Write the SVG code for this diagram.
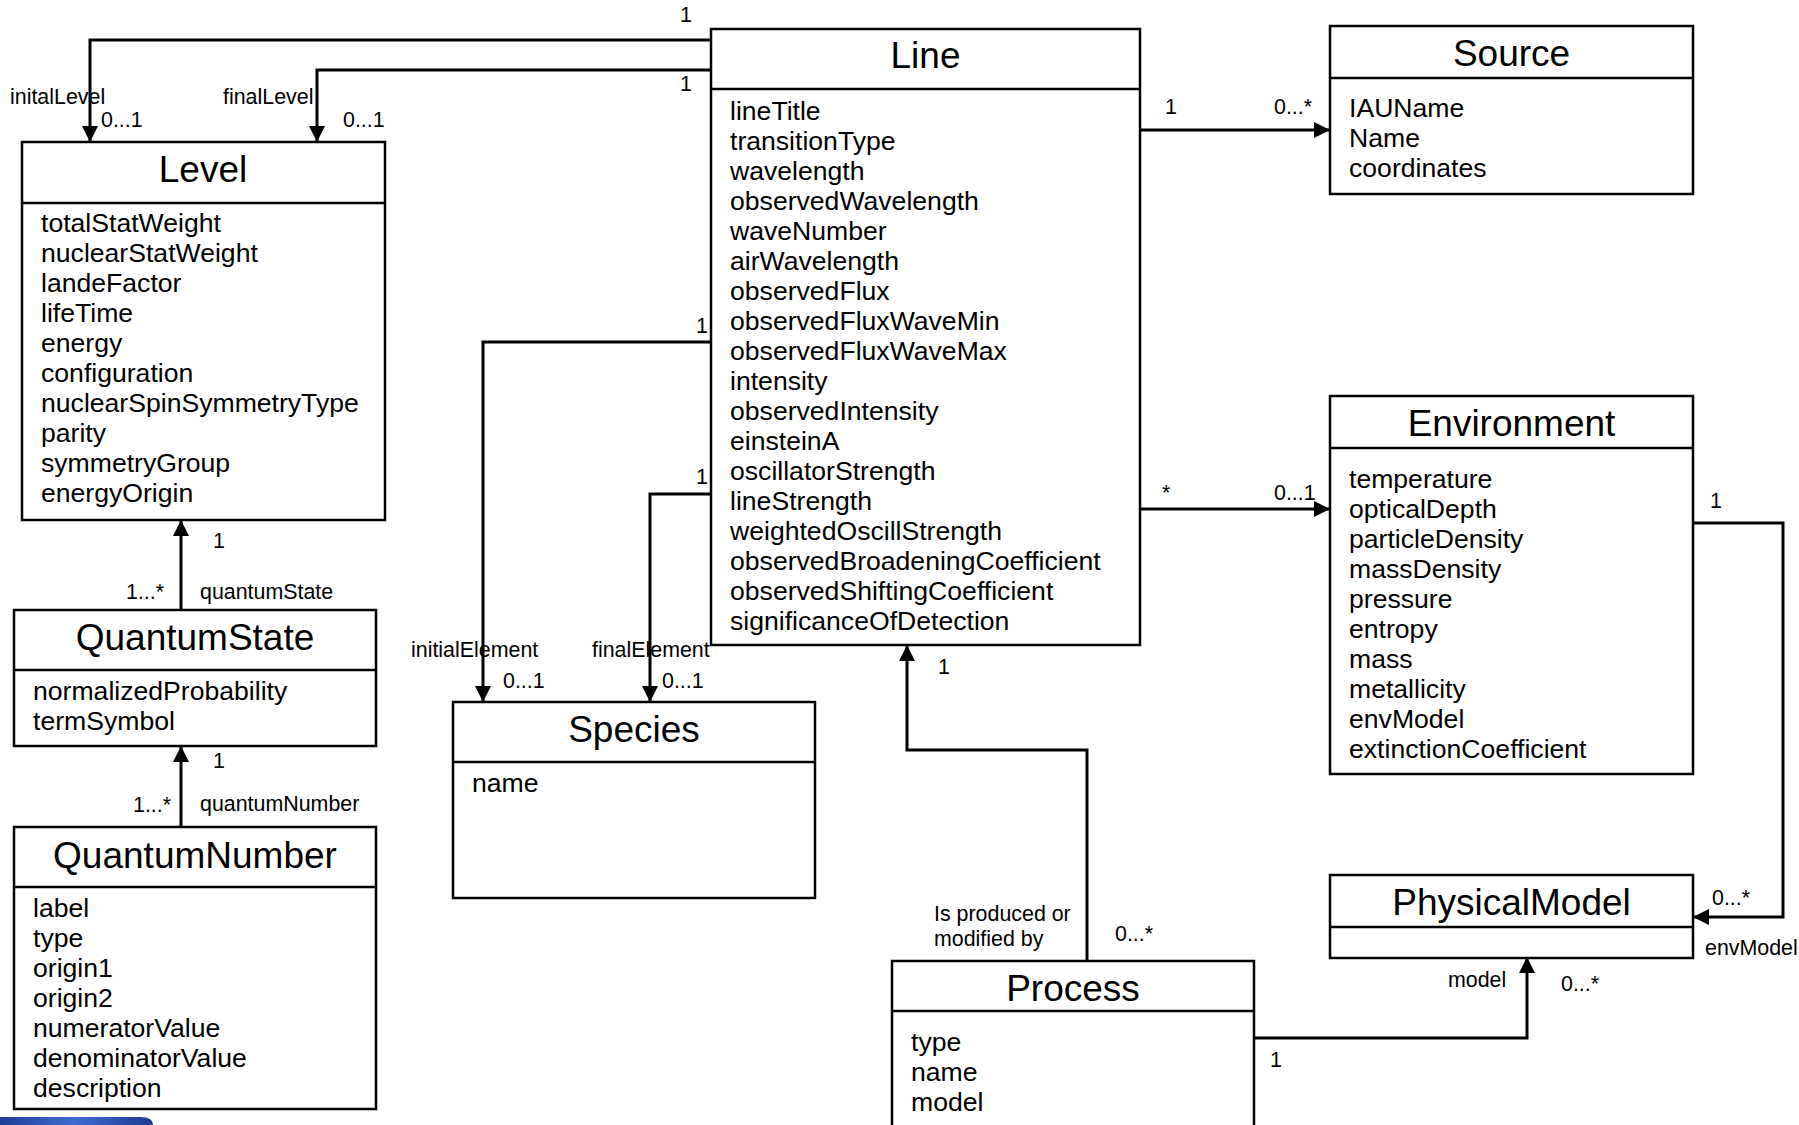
<svg xmlns="http://www.w3.org/2000/svg" width="1799" height="1125" viewBox="0 0 1799 1125">
<defs>
<marker id="arr" markerUnits="userSpaceOnUse" markerWidth="16" markerHeight="16" refX="16" refY="8" orient="auto"><path d="M0,0 L16,8 L0,16 z" fill="#000"/></marker>
<linearGradient id="blue" x1="0" y1="0" x2="1" y2="0"><stop offset="0" stop-color="#1d3b8f"/><stop offset="0.5" stop-color="#3f6cd2"/><stop offset="1" stop-color="#1d3b8f"/></linearGradient>
</defs>
<style>
text{font-family:"Liberation Sans",Arial,sans-serif;fill:#000}
.box{fill:#fff;stroke:#000;stroke-width:2.5}
.div{stroke:#000;stroke-width:2.5}
.t{font-size:37px;text-anchor:middle}
.a{font-size:26.6px}
.l{font-size:21.4px}
.c{fill:none;stroke:#000;stroke-width:3;marker-end:url(#arr)}
</style>
<rect width="1799" height="1125" fill="#fff"/>
<path d="M-5,1125 V1117 H140 Q153,1117 153,1125 z" fill="url(#blue)"/>

<g id="connectors">
<path class="c" d="M711,40 H90 V142"/>
<path class="c" d="M711,70 H317 V142"/>
<path class="c" d="M1140,130 H1330"/>
<path class="c" d="M1140,509 H1330"/>
<path class="c" d="M1693,523 H1783 V917 H1693"/>
<path class="c" d="M1087,961 V750 H907 V645"/>
<path class="c" d="M1254,1038 H1527 V957"/>
<path class="c" d="M711,342 H483 V702"/>
<path class="c" d="M711,494 H650 V702"/>
<path class="c" d="M181,610 V520"/>
<path class="c" d="M181,827 V746"/>
<g class="l">
<text class="l" x="686" y="22" text-anchor="middle">1</text>
<text class="l" x="686" y="91" text-anchor="middle">1</text>
<text class="l" x="10" y="104">initalLevel</text>
<text class="l" x="101" y="127">0...1</text>
<text class="l" x="223" y="104">finalLevel</text>
<text class="l" x="343" y="127">0...1</text>
<text class="l" x="1165" y="114">1</text>
<text class="l" x="1274" y="114">0...*</text>
<text class="l" x="1162" y="500">*</text>
<text class="l" x="1274" y="500">0...1</text>
<text class="l" x="1710" y="508">1</text>
<text class="l" x="1712" y="905">0...*</text>
<text class="l" x="1705" y="955">envModel</text>
<text class="l" x="938" y="674">1</text>
<text class="l" x="934" y="921">Is produced or</text>
<text class="l" x="934" y="946">modified by</text>
<text class="l" x="1115" y="941">0...*</text>
<text class="l" x="1270" y="1067">1</text>
<text class="l" x="1448" y="987">model</text>
<text class="l" x="1561" y="991">0...*</text>
<text class="l" x="696" y="333">1</text>
<text class="l" x="696" y="484">1</text>
<text class="l" x="411" y="657">initialElement</text>
<text class="l" x="503" y="688">0...1</text>
<text class="l" x="592" y="657">finalElement</text>
<text class="l" x="662" y="688">0...1</text>
<text class="l" x="213" y="548">1</text>
<text class="l" x="126" y="599">1...*</text>
<text class="l" x="200" y="599">quantumState</text>
<text class="l" x="213" y="768">1</text>
<text class="l" x="133" y="812">1...*</text>
<text class="l" x="200" y="811">quantumNumber</text>
</g>
</g>

<g id="Line">
<rect class="box" x="711" y="29" width="429" height="616"/>
<line class="div" x1="711" y1="89" x2="1140" y2="89"/>
<text class="t" x="925.5" y="68">Line</text>
<text class="a" x="730" y="120">lineTitle</text>
<text class="a" x="730" y="150">transitionType</text>
<text class="a" x="730" y="180">wavelength</text>
<text class="a" x="730" y="210">observedWavelength</text>
<text class="a" x="730" y="240">waveNumber</text>
<text class="a" x="730" y="270">airWavelength</text>
<text class="a" x="730" y="300">observedFlux</text>
<text class="a" x="730" y="330">observedFluxWaveMin</text>
<text class="a" x="730" y="360">observedFluxWaveMax</text>
<text class="a" x="730" y="390">intensity</text>
<text class="a" x="730" y="420">observedIntensity</text>
<text class="a" x="730" y="450">einsteinA</text>
<text class="a" x="730" y="480">oscillatorStrength</text>
<text class="a" x="730" y="510">lineStrength</text>
<text class="a" x="730" y="540">weightedOscillStrength</text>
<text class="a" x="730" y="570">observedBroadeningCoefficient</text>
<text class="a" x="730" y="600">observedShiftingCoefficient</text>
<text class="a" x="730" y="630">significanceOfDetection</text>
</g>

<g id="Level">
<rect class="box" x="22" y="142" width="363" height="378"/>
<line class="div" x1="22" y1="203" x2="385" y2="203"/>
<text class="t" x="203" y="182">Level</text>
<text class="a" x="41" y="232">totalStatWeight</text>
<text class="a" x="41" y="262">nuclearStatWeight</text>
<text class="a" x="41" y="292">landeFactor</text>
<text class="a" x="41" y="322">lifeTime</text>
<text class="a" x="41" y="352">energy</text>
<text class="a" x="41" y="382">configuration</text>
<text class="a" x="41" y="412">nuclearSpinSymmetryType</text>
<text class="a" x="41" y="442">parity</text>
<text class="a" x="41" y="472">symmetryGroup</text>
<text class="a" x="41" y="502">energyOrigin</text>
</g>

<g id="Source">
<rect class="box" x="1330" y="26" width="363" height="168"/>
<line class="div" x1="1330" y1="78" x2="1693" y2="78"/>
<text class="t" x="1511.5" y="66">Source</text>
<text class="a" x="1349" y="117">IAUName</text>
<text class="a" x="1349" y="147">Name</text>
<text class="a" x="1349" y="177">coordinates</text>
</g>

<g id="Environment">
<rect class="box" x="1330" y="396" width="363" height="378"/>
<line class="div" x1="1330" y1="448" x2="1693" y2="448"/>
<text class="t" x="1511.5" y="436">Environment</text>
<text class="a" x="1349" y="488">temperature</text>
<text class="a" x="1349" y="518">opticalDepth</text>
<text class="a" x="1349" y="548">particleDensity</text>
<text class="a" x="1349" y="578">massDensity</text>
<text class="a" x="1349" y="608">pressure</text>
<text class="a" x="1349" y="638">entropy</text>
<text class="a" x="1349" y="668">mass</text>
<text class="a" x="1349" y="698">metallicity</text>
<text class="a" x="1349" y="728">envModel</text>
<text class="a" x="1349" y="758">extinctionCoefficient</text>
</g>

<g id="PhysicalModel">
<rect class="box" x="1330" y="875" width="363" height="83"/>
<line class="div" x1="1330" y1="927" x2="1693" y2="927"/>
<text class="t" x="1511.5" y="915">PhysicalModel</text>
</g>

<g id="Process">
<rect class="box" x="892" y="961" width="362" height="180"/>
<line class="div" x1="892" y1="1011" x2="1254" y2="1011"/>
<text class="t" x="1073" y="1001">Process</text>
<text class="a" x="911" y="1051">type</text>
<text class="a" x="911" y="1081">name</text>
<text class="a" x="911" y="1111">model</text>
</g>

<g id="Species">
<rect class="box" x="453" y="702" width="362" height="196"/>
<line class="div" x1="453" y1="762" x2="815" y2="762"/>
<text class="t" x="634" y="742">Species</text>
<text class="a" x="472" y="792">name</text>
</g>

<g id="QuantumState">
<rect class="box" x="14" y="610" width="362" height="136"/>
<line class="div" x1="14" y1="670" x2="376" y2="670"/>
<text class="t" x="195" y="650">QuantumState</text>
<text class="a" x="33" y="700">normalizedProbability</text>
<text class="a" x="33" y="730">termSymbol</text>
</g>

<g id="QuantumNumber">
<rect class="box" x="14" y="827" width="362" height="282"/>
<line class="div" x1="14" y1="887" x2="376" y2="887"/>
<text class="t" x="195" y="868">QuantumNumber</text>
<text class="a" x="33" y="917">label</text>
<text class="a" x="33" y="947">type</text>
<text class="a" x="33" y="977">origin1</text>
<text class="a" x="33" y="1007">origin2</text>
<text class="a" x="33" y="1037">numeratorValue</text>
<text class="a" x="33" y="1067">denominatorValue</text>
<text class="a" x="33" y="1097">description</text>
</g>
</svg>
